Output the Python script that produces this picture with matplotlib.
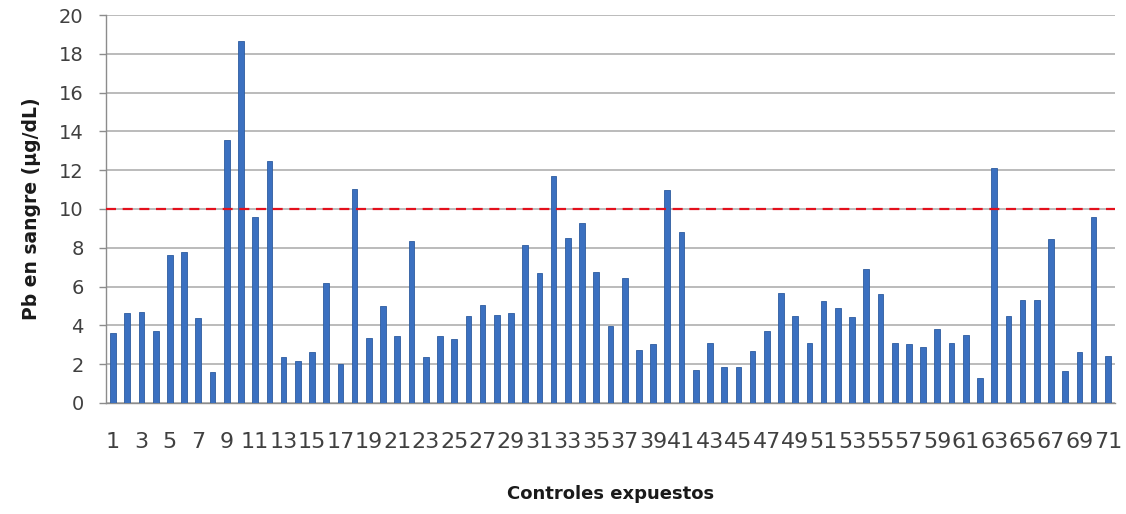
import matplotlib
matplotlib.use("Agg")
import matplotlib.pyplot as plt
import numpy as np

# Blood lead level for each exposed control subject
subjects = list(range(1, 72))
pb_levels = [
    3.62, 4.62, 4.71, 3.73, 7.63, 7.77, 4.37, 1.62, 13.56, 18.68,
    9.60, 12.49, 2.39, 2.16, 2.65, 6.17, 2.01, 11.03, 3.33, 5.00,
    3.47, 8.35, 2.39, 3.47, 3.28, 4.50, 5.05, 4.55, 4.62, 8.14,
    6.68, 11.72, 8.51, 9.26, 6.73, 3.97, 6.44, 2.73, 3.04, 10.98,
    8.83, 1.70, 3.11, 1.87, 1.87, 2.66, 3.73, 5.69, 4.50, 3.11,
    5.24, 4.91, 4.43, 6.89, 5.62, 3.11, 3.04, 2.90, 3.80, 3.11,
    3.51, 1.29, 12.13, 4.50, 5.31, 5.31, 8.47, 1.67, 2.61, 9.60,
    2.42,
]
reference_limit = 10
y_ticks = list(range(0, 21, 2))
x_tick_labels = [str(n) for n in subjects[::2]]

plt.rcParams["font.family"] = ["DejaVu Sans"]

fig = plt.figure(figsize=(11.26, 5.14), dpi=100)
ax = fig.add_axes([0.0941, 0.2160, 0.8961, 0.7548])

ax.bar(subjects, pb_levels, width=0.4, color="#3b70c0",
       edgecolor="#2d5c9f", linewidth=0.6, zorder=3)
ax.axhline(reference_limit, color="#e3101c", linewidth=1.6,
           linestyle=(0, (4.5, 3)), zorder=4)

ax.set_xlim(0.5, 71.5)
ax.set_ylim(0, 20)
ax.set_yticks(y_ticks)
ax.set_xticks(subjects[::2])
ax.set_xticklabels(x_tick_labels)

ax.yaxis.grid(True, color="#a8a8a8", linewidth=1.1, zorder=0)
ax.set_axisbelow(True)
for side in ("top", "right"):
    ax.spines[side].set_visible(False)
for side in ("left", "bottom"):
    ax.spines[side].set_color("#8c8c8c")
    ax.spines[side].set_linewidth(1.0)

ax.tick_params(axis="y", length=5, width=1, color="#8c8c8c",
               labelsize=14, labelcolor="#404040", pad=11)
ax.tick_params(axis="x", length=0, labelsize=16,
               labelcolor="#404040", pad=21)

ax.set_ylabel("Pb en sangre (μg/dL)", fontsize=13.5, fontweight="bold",
              color="#1a1a1a", labelpad=13)
ax.set_xlabel("Controles expuestos", fontsize=13, fontweight="bold",
              color="#1a1a1a", labelpad=24)

fig.savefig("out.png", dpi=100, facecolor="white")
